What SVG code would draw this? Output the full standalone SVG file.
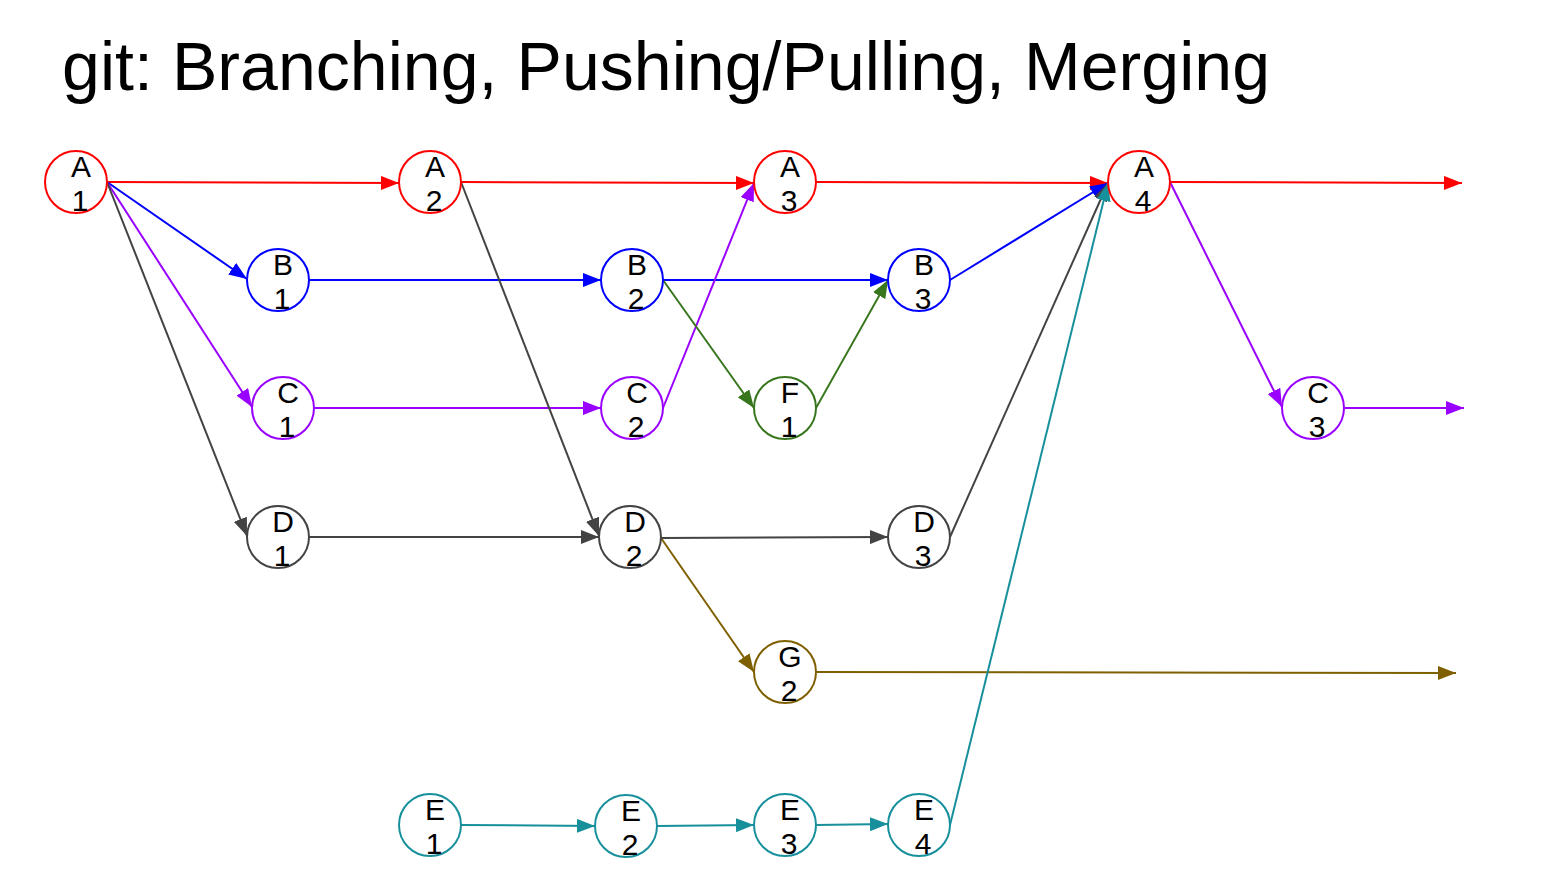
<svg xmlns="http://www.w3.org/2000/svg" width="1567" height="896" viewBox="0 0 1567 896">
<defs>
<style>
.n{fill:#fff;stroke-width:2}
.t{font-family:"Liberation Sans",Arial,sans-serif;font-size:30px;fill:#000;text-anchor:middle}
.e{fill:none;stroke-width:2}
.red{stroke:#ff0000}.blue{stroke:#0000ff}.pur{stroke:#9900ff}.gry{stroke:#434343}.grn{stroke:#38761d}.brn{stroke:#7f6000}.teal{stroke:#17909c}
</style>
<marker id="mr" markerUnits="userSpaceOnUse" markerWidth="18" markerHeight="14" refX="18" refY="7" orient="auto"><path d="M0,0L18,7L0,14z" fill="#ff0000"/></marker>
<marker id="mb" markerUnits="userSpaceOnUse" markerWidth="18" markerHeight="14" refX="18" refY="7" orient="auto"><path d="M0,0L18,7L0,14z" fill="#0000ff"/></marker>
<marker id="mp" markerUnits="userSpaceOnUse" markerWidth="18" markerHeight="14" refX="18" refY="7" orient="auto"><path d="M0,0L18,7L0,14z" fill="#9900ff"/></marker>
<marker id="mg" markerUnits="userSpaceOnUse" markerWidth="18" markerHeight="14" refX="18" refY="7" orient="auto"><path d="M0,0L18,7L0,14z" fill="#434343"/></marker>
<marker id="mgr" markerUnits="userSpaceOnUse" markerWidth="18" markerHeight="14" refX="18" refY="7" orient="auto"><path d="M0,0L18,7L0,14z" fill="#38761d"/></marker>
<marker id="mbr" markerUnits="userSpaceOnUse" markerWidth="18" markerHeight="14" refX="18" refY="7" orient="auto"><path d="M0,0L18,7L0,14z" fill="#7f6000"/></marker>
<marker id="mt" markerUnits="userSpaceOnUse" markerWidth="18" markerHeight="14" refX="18" refY="7" orient="auto"><path d="M0,0L18,7L0,14z" fill="#17909c"/></marker>
</defs>
<rect width="1567" height="896" fill="#fff"/>
<text x="62" y="90" font-family="'Liberation Sans',Arial,sans-serif" font-size="68" textLength="1208" fill="#000">git: Branching, Pushing/Pulling, Merging</text>
<g id="connectors">
<line class="e red" x1="107" y1="182" x2="399" y2="183" marker-end="url(#mr)"/>
<line class="e red" x1="461" y1="182" x2="754" y2="183" marker-end="url(#mr)"/>
<line class="e red" x1="816" y1="182" x2="1108" y2="183" marker-end="url(#mr)"/>
<line class="e red" x1="1170" y1="182" x2="1462" y2="183" marker-end="url(#mr)"/>
<line class="e blue" x1="107" y1="182" x2="247" y2="279" marker-end="url(#mb)"/>
<line class="e blue" x1="309" y1="280" x2="601" y2="280" marker-end="url(#mb)"/>
<line class="e blue" x1="663" y1="280" x2="888" y2="280" marker-end="url(#mb)"/>
<line class="e blue" x1="950" y1="280" x2="1108" y2="183" marker-end="url(#mb)"/>
<line class="e pur" x1="107" y1="182" x2="252" y2="407" marker-end="url(#mp)"/>
<line class="e pur" x1="314" y1="408" x2="601" y2="408" marker-end="url(#mp)"/>
<line class="e pur" x1="663" y1="408" x2="754" y2="183" marker-end="url(#mp)"/>
<line class="e pur" x1="1170" y1="182" x2="1282" y2="407" marker-end="url(#mp)"/>
<line class="e pur" x1="1344" y1="408" x2="1464" y2="408" marker-end="url(#mp)"/>
<line class="e gry" x1="107" y1="182" x2="247" y2="536" marker-end="url(#mg)"/>
<line class="e gry" x1="309" y1="537" x2="599" y2="537" marker-end="url(#mg)"/>
<line class="e gry" x1="461" y1="182" x2="599" y2="536" marker-end="url(#mg)"/>
<line class="e gry" x1="661" y1="538" x2="888" y2="537" marker-end="url(#mg)"/>
<line class="e gry" x1="950" y1="537" x2="1108" y2="183" marker-end="url(#mg)"/>
<line class="e grn" x1="663" y1="280" x2="754" y2="408" marker-end="url(#mgr)"/>
<line class="e grn" x1="816" y1="408" x2="888" y2="280" marker-end="url(#mgr)"/>
<line class="e brn" x1="661" y1="538" x2="754" y2="672" marker-end="url(#mbr)"/>
<line class="e brn" x1="816" y1="672" x2="1456" y2="673" marker-end="url(#mbr)"/>
<line class="e teal" x1="461" y1="825" x2="595" y2="826" marker-end="url(#mt)"/>
<line class="e teal" x1="657" y1="826" x2="754" y2="825" marker-end="url(#mt)"/>
<line class="e teal" x1="816" y1="825" x2="888" y2="824" marker-end="url(#mt)"/>
<line class="e teal" x1="950" y1="825" x2="1108" y2="183" marker-end="url(#mt)"/>
</g>
<g id="A1"><circle class="n red" cx="76" cy="182" r="31"/><text class="t" x="81" y="177">A</text><text class="t" x="80" y="211">1</text></g>
<g id="A2"><circle class="n red" cx="430" cy="182" r="31"/><text class="t" x="435" y="177">A</text><text class="t" x="434" y="211">2</text></g>
<g id="A3"><circle class="n red" cx="785" cy="182" r="31"/><text class="t" x="790" y="177">A</text><text class="t" x="789" y="211">3</text></g>
<g id="A4"><circle class="n red" cx="1139" cy="182" r="31"/><text class="t" x="1144" y="177">A</text><text class="t" x="1143" y="211">4</text></g>
<g id="B1"><circle class="n blue" cx="278" cy="280" r="31"/><text class="t" x="283" y="275">B</text><text class="t" x="282" y="309">1</text></g>
<g id="B2"><circle class="n blue" cx="632" cy="280" r="31"/><text class="t" x="637" y="275">B</text><text class="t" x="636" y="309">2</text></g>
<g id="B3"><circle class="n blue" cx="919" cy="280" r="31"/><text class="t" x="924" y="275">B</text><text class="t" x="923" y="309">3</text></g>
<g id="C1"><circle class="n pur" cx="283" cy="408" r="31"/><text class="t" x="288" y="403">C</text><text class="t" x="287" y="437">1</text></g>
<g id="C2"><circle class="n pur" cx="632" cy="408" r="31"/><text class="t" x="637" y="403">C</text><text class="t" x="636" y="437">2</text></g>
<g id="F1"><circle class="n grn" cx="785" cy="408" r="31"/><text class="t" x="790" y="403">F</text><text class="t" x="789" y="437">1</text></g>
<g id="C3"><circle class="n pur" cx="1313" cy="408" r="31"/><text class="t" x="1318" y="403">C</text><text class="t" x="1317" y="437">3</text></g>
<g id="D1"><circle class="n gry" cx="278" cy="537" r="31"/><text class="t" x="283" y="532">D</text><text class="t" x="282" y="566">1</text></g>
<g id="D2"><circle class="n gry" cx="630" cy="537" r="31"/><text class="t" x="635" y="532">D</text><text class="t" x="634" y="566">2</text></g>
<g id="D3"><circle class="n gry" cx="919" cy="537" r="31"/><text class="t" x="924" y="532">D</text><text class="t" x="923" y="566">3</text></g>
<g id="G2"><circle class="n brn" cx="785" cy="672" r="31"/><text class="t" x="790" y="667">G</text><text class="t" x="789" y="701">2</text></g>
<g id="E1"><circle class="n teal" cx="430" cy="825" r="31"/><text class="t" x="435" y="820">E</text><text class="t" x="434" y="854">1</text></g>
<g id="E2"><circle class="n teal" cx="626" cy="826" r="31"/><text class="t" x="631" y="821">E</text><text class="t" x="630" y="855">2</text></g>
<g id="E3"><circle class="n teal" cx="785" cy="825" r="31"/><text class="t" x="790" y="820">E</text><text class="t" x="789" y="854">3</text></g>
<g id="E4"><circle class="n teal" cx="919" cy="825" r="31"/><text class="t" x="924" y="820">E</text><text class="t" x="923" y="854">4</text></g>
</svg>
